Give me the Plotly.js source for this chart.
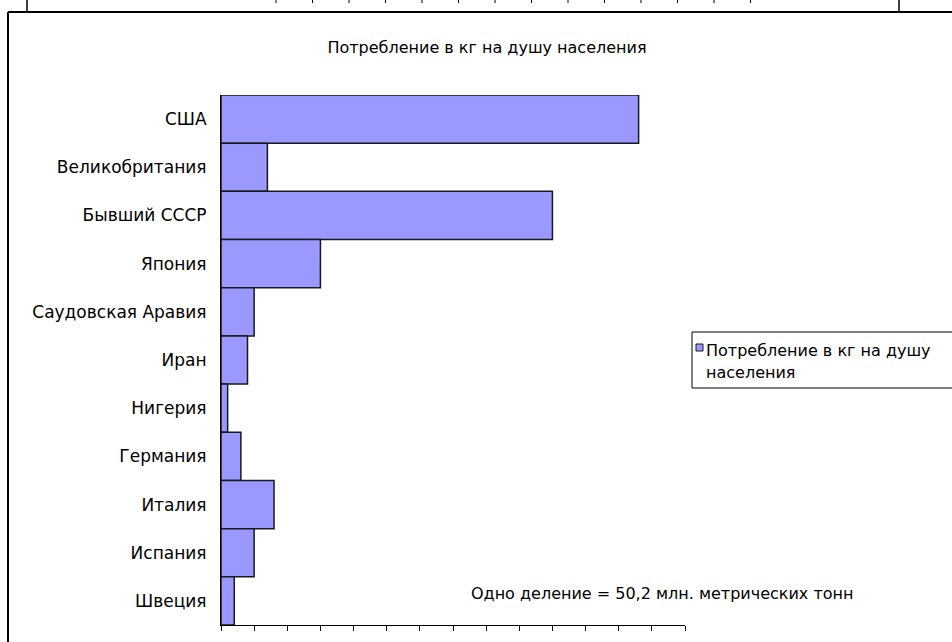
<!DOCTYPE html>
<html>
<head>
<meta charset="utf-8">
<script src="https://cdn.plot.ly/plotly-3.0.1.min.js"></script>
<style>html,body{margin:0;padding:0;background:#fff;}#chart{width:952px;height:642px;}</style>
</head>
<body>
<div id="chart"></div>
<script>
// Data (values in axis divisions)
const countries = ["США", "Великобритания", "Бывший СССР", "Япония", "Саудовская Аравия", "Иран", "Нигерия", "Германия", "Италия", "Испания", "Швеция"];
const consumption = [12.6, 1.4, 10.0, 3.0, 1.0, 0.8, 0.2, 0.6, 1.6, 1.0, 0.4];
const seriesName = "Потребление в кг на душу населения";
const chartTitle = "Потребление в кг на душу населения";
const noteText = "Одно деление = 50,2 млн. метрических тонн";

const W = 952, H = 642;
const L = 221, R = 685, T = 95, B = 625;
const px = x => (x - L) / (R - L);
const py = y => (B - y) / (B - T);

const FONT = "DejaVu Sans, Liberation Sans, Arial, sans-serif";
const barColor = "#9999FF";

const trace = {
  type: "bar",
  orientation: "h",
  y: countries,
  x: consumption,
  name: seriesName,
  marker: {color: barColor, line: {color: "#1a1a1a", width: 1.5}},
  hoverinfo: "x+y"
};

const shapes = [];
// outer frame (left + top)
shapes.push({type: "line", xref: "paper", yref: "paper", x0: px(8), x1: px(8), y0: py(12), y1: py(650), line: {color: "#000", width: 2}});
shapes.push({type: "line", xref: "paper", yref: "paper", x0: px(8), x1: px(960), y0: py(12), y1: py(12), line: {color: "#000", width: 2}});
// remnant of upper chart
shapes.push({type: "line", xref: "paper", yref: "paper", x0: px(27), x1: px(27), y0: py(-2), y1: py(12), line: {color: "#000", width: 1.5}});
shapes.push({type: "line", xref: "paper", yref: "paper", x0: px(899), x1: px(899), y0: py(-2), y1: py(12), line: {color: "#000", width: 1.5}});
for (let i = 0; i < 14; i++) {
  const xx = 276 + i * 36.5;
  shapes.push({type: "line", xref: "paper", yref: "paper", x0: px(xx), x1: px(xx), y0: py(-2), y1: py(3), line: {color: "#000", width: 1}});
}
// legend box
shapes.push({type: "rect", xref: "paper", yref: "paper", x0: px(692), x1: px(970), y0: py(388), y1: py(332), line: {color: "#000", width: 1}, fillcolor: "rgba(0,0,0,0)"});
shapes.push({type: "rect", xref: "paper", yref: "paper", x0: px(696), x1: px(703), y0: py(351), y1: py(344), line: {color: "#1a1a1a", width: 1}, fillcolor: barColor});

const layout = {
  width: W, height: H,
  margin: {l: L, r: W - R, t: T, b: H - B, pad: 0},
  paper_bgcolor: "#fff", plot_bgcolor: "#fff",
  showlegend: false,
  bargap: 0,
  font: {family: FONT, color: "#000", size: 16},
  title: {text: chartTitle, font: {family: FONT, size: 16, color: "#000"}, x: 487 / W, xanchor: "center", y: 1 - 47 / H, yanchor: "middle"},
  xaxis: {range: [0, 14], dtick: 1, tick0: 0, ticks: "outside", ticklen: 5, tickcolor: "#000", tickwidth: 1,
          showticklabels: false, showgrid: false, zeroline: false, showline: true, linecolor: "#000", linewidth: 1, fixedrange: true},
  yaxis: {type: "category", autorange: "reversed", ticks: "", showgrid: false, zeroline: false, showline: true, linecolor: "#000", linewidth: 1,
          tickfont: {family: FONT, size: 17, color: "#000"}, ticklabelstandoff: 10, fixedrange: true},
  shapes: shapes,
  annotations: [
    {text: noteText, xref: "paper", yref: "paper", x: px(662), y: py(593), xanchor: "center", yanchor: "middle", showarrow: false, font: {family: FONT, size: 16, color: "#000"}},
    {text: "Потребление в кг на душу", xref: "paper", yref: "paper", x: px(704), y: py(350), xanchor: "left", yanchor: "middle", showarrow: false, font: {family: FONT, size: 16, color: "#000"}},
    {text: "населения", xref: "paper", yref: "paper", x: px(704), y: py(372), xanchor: "left", yanchor: "middle", showarrow: false, font: {family: FONT, size: 16, color: "#000"}}
  ]
};

Plotly.newPlot("chart", [trace], layout, {displayModeBar: false, staticPlot: true});
</script>
</body>
</html>
